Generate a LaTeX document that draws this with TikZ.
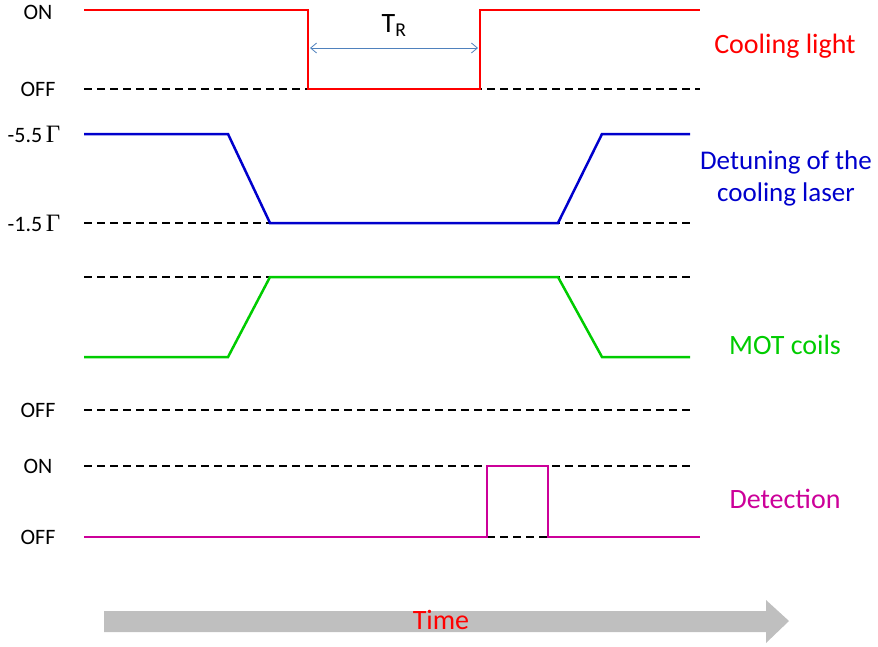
\documentclass[tikz,border=0pt]{standalone}
\usepackage{fontspec}
\setmainfont{Carlito}
\newfontfamily\gfont{Liberation Serif}
\usetikzlibrary{arrows.meta}
\definecolor{cred}{RGB}{255,0,0}
\definecolor{cblue}{RGB}{0,0,204}
\definecolor{cgreen}{RGB}{0,204,0}
\definecolor{cmag}{RGB}{204,0,153}
\definecolor{cgray}{RGB}{191,191,191}
\definecolor{carrow}{RGB}{79,129,189}
\begin{document}
\begin{tikzpicture}[x=1pt,y=-1pt,
  sig/.style={line width=2.5pt,line join=miter},
  dashln/.style={line width=2.2pt,black,dash pattern=on 8pt off 5pt},
  lvl/.style={font=\fontsize{22}{26}\selectfont,anchor=center},
  lab/.style={font=\fontsize{28}{34}\selectfont,align=center}]
\useasboundingbox (0,0) rectangle (878,646);
% level labels
\node[lvl] (on1) at (38,12) {ON};
\node[lvl] (off1) at (38,89) {OFF};
\node[lvl] (d55) at (34,134) {-5.5\,{\gfont\fontsize{25}{26}\selectfont Γ}};
\node[lvl] (d15) at (34,223) {-1.5\,{\gfont\fontsize{25}{26}\selectfont Γ}};
\node[lvl] (off3) at (38,410) {OFF};
\node[lvl] (on4) at (38,466) {ON};
\node[lvl] (off4) at (38,537) {OFF};
% dashed reference lines
\draw[dashln] (84,89) -- (700,89);
\draw[dashln] (84,223) -- (690,223);
\draw[dashln] (84,277) -- (690,277);
\draw[dashln] (84,410) -- (690,410);
\draw[dashln] (84,466) -- (690,466);
\draw[dashln] (487,537) -- (548,537);
% cooling light
\draw[sig,cred] (84,10) -- (308,10) -- (308,89) -- (480,89) -- (480,10) -- (700,10);
\coordinate (tra) at (310,48);
\coordinate (trb) at (478,48);
\draw[carrow,line width=0.8pt,{Straight Barb[length=6pt,width=10pt]}-{Straight Barb[length=6pt,width=10pt]}] (tra) -- (trb);
\node[font=\fontsize{28}{34}\selectfont] (tr) at (394,26) {T\textsubscript{R}};
% detuning
\draw[sig,cblue] (84,134) -- (228,134) -- (270,223) -- (558,223) -- (602,134) -- (690,134);
% MOT coils
\draw[sig,cgreen] (84,357) -- (228,357) -- (270,277) -- (558,277) -- (602,357) -- (690,357);
% detection
\draw[sig,cmag] (84,537) -- (487,537) -- (487,466) -- (548,466) -- (548,537) -- (700,537);
% right labels
\node[lab,text=cred] (cl) at (785,46) {Cooling light};
\node[lab,text=cblue,font=\fontsize{27}{32}\selectfont] (dt) at (786,178) {Detuning of the\\cooling laser};
\node[lab,text=cgreen] (mc) at (785,345) {MOT coils};
\node[lab,text=cmag] (de) at (785,499) {Detection};
% time arrow
\fill[cgray] (104,611) -- (766,611) -- (766,600) -- (789,621) -- (766,643) -- (766,632) -- (104,632) -- cycle;
\node[lab,text=cred] (time) at (441,620) {Time};
\end{tikzpicture}
\end{document}
